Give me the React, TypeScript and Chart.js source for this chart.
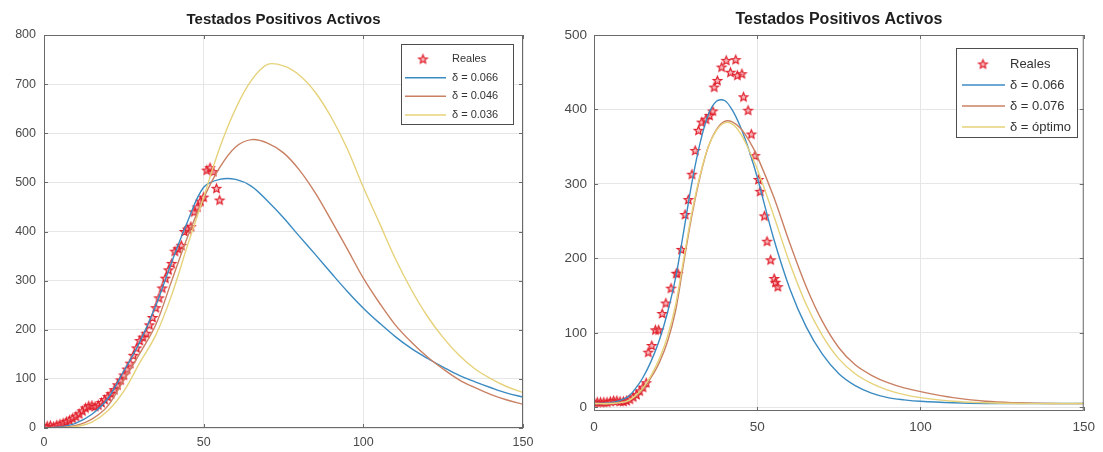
import React, { useEffect, useRef } from "react";
import { Chart, registerables } from "chart.js";

Chart.register(...registerables);

const FONT = "'Liberation Sans', Arial, Helvetica, sans-serif";
const GRID = "#e6e6e6";
const TICK = "#4a4a4a";
const FRAME = "#6a6a6a";

const chartTitle = "Testados Positivos Activos";
const xTicks = [0, 50, 100, 150];
const curveColors = ["#3b8bc2", "#c98063", "#e6d27a"];

// ---------- left panel ----------
const leftYTicks = [0, 100, 200, 300, 400, 500, 600, 700, 800];
const leftLabels = ["Reales", "δ = 0.066", "δ = 0.046", "δ = 0.036"];
// daily observed values, day 0..55
const leftReales = [
  3, 4, 5, 3, 6, 8, 10, 13, 16, 20, 24, 29, 35, 41, 45, 46, 44, 47, 52, 58,
  64, 70, 78, 88, 98, 108, 120, 132, 148, 163, 178, 185, 193, 210, 225, 245,
  265, 285, 305, 322, 335, 360, 365, 372, 400, 405, 410, 440, 450, 462, 470,
  525, 530, 522, 488, 464,
];
const leftCurveX = [
  0, 5, 10, 15, 20, 25, 30, 35, 40, 45, 50, 55, 60, 65, 70, 75, 80, 85, 90,
  95, 100, 105, 110, 115, 120, 125, 130, 135, 140, 145, 150,
];
const leftDelta066 = [
  0, 2, 10, 28, 60, 116, 175, 249, 338, 421, 490, 506, 506, 492, 462, 428,
  390, 353, 315, 278, 244, 214, 186, 162, 142, 124, 107, 94, 82, 71, 63,
];
const leftDelta046 = [
  0, 1, 5, 18, 45, 98, 152, 210, 300, 390, 468, 530, 572, 587, 580, 560, 525,
  478, 422, 364, 305, 255, 210, 175, 145, 120, 98, 82, 68, 57, 48,
];
const leftDelta036 = [
  0, 0.5, 3, 12, 35, 75, 133, 189, 271, 373, 470, 570, 650, 708, 740, 737,
  718, 683, 632, 568, 490, 418, 345, 282, 228, 184, 148, 120, 100, 84, 72,
];

// ---------- right panel ----------
const rightYTicks = [0, 100, 200, 300, 400, 500];
const rightLabels = ["Reales", "δ = 0.066", "δ = 0.076", "δ = óptimo"];
const rightRealesDays = [
  0, 1, 2, 3, 4, 5, 6, 7, 8, 9, 10, 11, 12, 13, 14, 15, 16, 16.6, 17.7, 18.8,
  19.8, 20.9, 22, 23.6, 25.2, 25.7, 26.8, 27.9, 28.9, 30, 31, 32, 33, 34.3,
  35.4, 36.4, 36.8, 37.8, 39.1, 40.5, 41.8, 43.4, 43.9, 45.3, 45.8, 47.2, 48.2,
  49.3, 50.4, 50.9, 52.2, 53, 54.1, 55.2, 55.6, 56.3,
];
const rightReales = [
  7, 7, 7, 7, 7, 8, 9, 9, 8, 8, 9, 11, 14, 17, 22, 27, 33, 74, 83, 104, 104,
  126, 140, 160, 180, 180, 212, 259, 279, 313, 345, 372, 383, 387, 392, 398,
  430, 439, 457, 466, 450, 467, 446, 448, 417, 399, 367, 338, 306, 290, 257,
  223, 198, 173, 168, 162,
];
const rightCurveX = [
  0, 5, 10, 12.5, 15, 17.5, 20, 22.5, 25, 27.5, 30, 32.5, 35, 37.5, 40, 42.5,
  45, 47.5, 50, 55, 60, 65, 70, 75, 80, 85, 90, 95, 100, 110, 120, 130, 140,
  150,
];
const rightDelta066 = [
  5, 6, 13, 24, 40, 62, 90, 127, 174, 237, 302, 355, 393, 411, 412, 398, 375,
  345, 309, 227, 159, 108, 71, 45, 29, 19, 13, 10, 8, 6, 5, 5, 5, 5,
];
const rightDelta076 = [
  5, 5, 8, 14, 24, 40, 60, 88, 130, 195, 258, 310, 350, 373, 384, 383, 374,
  358, 337, 283, 220, 162, 115, 80, 57, 43, 33, 26, 21, 13, 8, 6, 5, 5,
];
const rightDeltaOptimo = [
  5, 5, 8, 15, 26, 43, 65, 95, 138, 200, 262, 312, 350, 372, 382, 380, 367,
  345, 320, 258, 193, 138, 96, 65, 45, 32, 23, 17, 13, 8, 6, 5, 5, 5,
];

type Panel = {
  left: number;
  w: number;
  area: { left: number; right: number; top: number; bottom: number };
  yMin: number;
  yMax: number;
  yTicks: number[];
  labels: string[];
  realesDays: number[] | null;
  reales: number[];
  curveX: number[];
  curves: number[][];
  tickSize: number;
  titleSize: number;
  titleY: number;
  xPad: number;
  yPad: number;
  legend: {
    box: number[];
    rows: number[];
    lineX: number[];
    starX: number;
    textX: number;
    size: number;
  };
  starR: number;
};

const panels: Panel[] = [
  {
    left: 0,
    w: 550,
    area: { left: 44, right: 523, top: 35, bottom: 428 },
    yMin: 0,
    yMax: 800,
    yTicks: leftYTicks,
    labels: leftLabels,
    realesDays: null,
    reales: leftReales,
    curveX: leftCurveX,
    curves: [leftDelta066, leftDelta046, leftDelta036],
    tickSize: 12.5,
    titleSize: 15,
    titleY: 20,
    xPad: 7.5,
    yPad: 8,
    legend: {
      box: [401, 44, 513, 124],
      rows: [59, 77.7, 96.3, 115],
      lineX: [405, 446],
      starX: 423,
      textX: 452,
      size: 11,
    },
    starR: 4.5,
  },
  {
    left: 550,
    w: 553,
    area: { left: 44, right: 539, top: 35, bottom: 411 },
    yMin: -5,
    yMax: 500,
    yTicks: rightYTicks,
    labels: rightLabels,
    realesDays: rightRealesDays,
    reales: rightReales,
    curveX: rightCurveX,
    curves: [rightDelta066, rightDelta076, rightDeltaOptimo],
    tickSize: 13.5,
    titleSize: 16,
    titleY: 20,
    xPad: 8,
    yPad: 7,
    legend: {
      box: [406, 48, 527, 137],
      rows: [64, 85, 106, 127],
      lineX: [412, 455],
      starX: 433,
      textX: 460,
      size: 13,
    },
    starR: 4.5,
  },
];

function makeStar(r: number): HTMLCanvasElement {
  const size = Math.ceil(r * 2 + 4);
  const c = document.createElement("canvas");
  c.width = size;
  c.height = size;
  const ctx = c.getContext("2d")!;
  ctx.beginPath();
  for (let i = 0; i < 10; i++) {
    const rad = i % 2 === 0 ? r : r * 0.45;
    const a = -Math.PI / 2 + (i * Math.PI) / 5;
    const px = size / 2 + rad * Math.cos(a);
    const py = size / 2 + 0.4 + rad * Math.sin(a);
    if (i === 0) ctx.moveTo(px, py);
    else ctx.lineTo(px, py);
  }
  ctx.closePath();
  ctx.fillStyle = "rgba(240,110,120,0.5)";
  ctx.fill();
  ctx.strokeStyle = "#e0202c";
  ctx.lineWidth = 1.25;
  ctx.stroke();
  return c;
}

function buildConfig(p: Panel): any {
  const star = makeStar(p.starR);
  const days = p.realesDays;
  const datasets: any[] = [
    {
      type: "scatter",
      label: p.labels[0],
      data: p.reales.map((y, i) => ({ x: days ? days[i] : i, y })),
      pointStyle: star,
      pointRadius: p.starR,
      borderColor: "#e0202c",
      backgroundColor: "rgba(0,0,0,0)",
      showLine: false,
      order: 10,
    },
  ];
  p.curves.forEach((c, k) => {
    datasets.push({
      type: "line",
      label: p.labels[k + 1],
      data: p.curveX.map((x, j) => ({ x, y: c[j] })),
      borderColor: curveColors[k],
      backgroundColor: curveColors[k],
      borderWidth: 1.4,
      pointRadius: 0,
      fill: false,
      tension: 0.35,
      order: 3 - k,
    });
  });

  const tickFont = { family: FONT, size: p.tickSize };

  const decor = {
    id: "matlabDecor",
    afterDraw(chart: any) {
      const { ctx, chartArea: a, scales } = chart;
      ctx.save();
      ctx.strokeStyle = FRAME;
      ctx.lineWidth = 1;
      ctx.strokeRect(a.left + 0.5, a.top + 0.5, a.right - a.left - 1, a.bottom - a.top - 1);
      const tl = 4;
      ctx.beginPath();
      scales.x.ticks.forEach((t: any) => {
        const px = Math.round(scales.x.getPixelForValue(t.value)) + 0.5;
        ctx.moveTo(px, a.bottom);
        ctx.lineTo(px, a.bottom - tl);
        ctx.moveTo(px, a.top);
        ctx.lineTo(px, a.top + tl);
      });
      scales.y.ticks.forEach((t: any) => {
        const py = Math.round(scales.y.getPixelForValue(t.value)) + 0.5;
        ctx.moveTo(a.left, py);
        ctx.lineTo(a.left + tl, py);
        ctx.moveTo(a.right, py);
        ctx.lineTo(a.right - tl, py);
      });
      ctx.stroke();
      ctx.fillStyle = "#1e1e1e";
      ctx.font = `bold ${p.titleSize}px ${FONT}`;
      ctx.textAlign = "center";
      ctx.textBaseline = "middle";
      ctx.fillText(chartTitle, (a.left + a.right) / 2, p.titleY);
      const L = p.legend;
      const [bx1, by1, bx2, by2] = L.box;
      ctx.fillStyle = "#ffffff";
      ctx.fillRect(bx1, by1, bx2 - bx1, by2 - by1);
      ctx.strokeStyle = "#4d4d4d";
      ctx.lineWidth = 1;
      ctx.strokeRect(bx1 + 0.5, by1 + 0.5, bx2 - bx1, by2 - by1);
      ctx.font = `${L.size}px ${FONT}`;
      ctx.textAlign = "left";
      ctx.textBaseline = "middle";
      chart.data.datasets.forEach((ds: any, i: number) => {
        const y = L.rows[i];
        if (i === 0) {
          const img = ds.pointStyle as HTMLCanvasElement;
          ctx.drawImage(img, L.starX - img.width / 2, y - img.height / 2);
        } else {
          ctx.strokeStyle = ds.borderColor;
          ctx.lineWidth = 1.4;
          ctx.beginPath();
          ctx.moveTo(L.lineX[0], y);
          ctx.lineTo(L.lineX[1], y);
          ctx.stroke();
        }
        ctx.fillStyle = "#333333";
        ctx.fillText(ds.label, L.textX, y);
      });
      ctx.restore();
    },
  };

  return {
    type: "scatter",
    data: { datasets },
    options: {
      responsive: false,
      animation: false,
      devicePixelRatio: 1,
      events: [],
      layout: {
        padding: { top: p.area.top, right: p.w - p.area.right, left: 0, bottom: 0 },
      },
      plugins: {
        legend: { display: false },
        title: { display: false },
        tooltip: { enabled: false },
      },
      scales: {
        x: {
          type: "linear",
          min: 0,
          max: 150,
          afterBuildTicks: (s: any) => {
            s.ticks = xTicks.map((v) => ({ value: v }));
          },
          afterFit: (s: any) => {
            s.height = 452 - p.area.bottom;
          },
          grid: { color: GRID, drawTicks: false, lineWidth: 1 },
          border: { display: false },
          ticks: {
            color: TICK,
            font: tickFont,
            padding: p.xPad,
            maxRotation: 0,
            autoSkip: false,
          },
        },
        y: {
          type: "linear",
          min: p.yMin,
          max: p.yMax,
          afterBuildTicks: (s: any) => {
            s.ticks = p.yTicks.map((v) => ({ value: v }));
          },
          afterFit: (s: any) => {
            s.width = p.area.left;
          },
          grid: { color: GRID, drawTicks: false, lineWidth: 1 },
          border: { display: false },
          ticks: { color: TICK, font: tickFont, padding: p.yPad, autoSkip: false },
        },
      },
    },
    plugins: [decor],
  };
}

function PanelChart({ panel }: { panel: Panel }) {
  const ref = useRef<HTMLCanvasElement>(null);
  useEffect(() => {
    const canvas = ref.current;
    if (!canvas) return;
    const chart = new Chart(canvas, buildConfig(panel));
    return () => chart.destroy();
  }, [panel]);
  return (
    <canvas
      ref={ref}
      width={panel.w}
      height={452}
      style={{
        position: "absolute",
        left: panel.left,
        top: 0,
        width: panel.w,
        height: 452,
        display: "block",
      }}
    />
  );
}

export default function App() {
  return (
    <div
      style={{
        position: "absolute",
        left: 0,
        top: 0,
        width: 1103,
        height: 452,
        background: "#ffffff",
        overflow: "hidden",
      }}
    >
      {panels.map((p, i) => (
        <PanelChart key={i} panel={p} />
      ))}
    </div>
  );
}
